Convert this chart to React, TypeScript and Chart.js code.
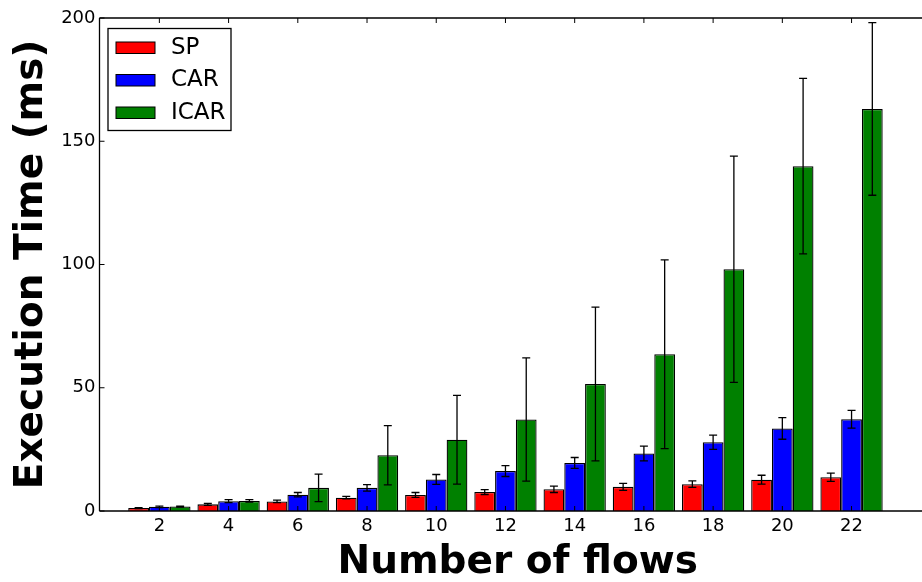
import React, { useEffect, useRef } from 'react';
import { Chart, registerables } from 'chart.js';

Chart.register(...registerables);

const flows = [2, 4, 6, 8, 10, 12, 14, 16, 18, 20, 22];
const spMean = [1.2, 2.7, 3.9, 5.4, 6.5, 7.7, 8.8, 9.8, 10.9, 12.7, 13.7];
const spErr = [0.2, 0.4, 0.5, 0.5, 1.0, 1.0, 1.3, 1.4, 1.3, 1.8, 1.7];
const carMean = [1.7, 4.0, 6.6, 9.4, 12.8, 16.2, 19.5, 23.3, 27.9, 33.5, 37.2];
const carErr = [0.3, 0.6, 0.9, 1.3, 2.0, 2.2, 2.2, 3.0, 2.9, 4.4, 3.6];
const icarMean = [1.8, 4.1, 9.4, 22.6, 28.9, 37.1, 51.5, 63.6, 98.1, 139.9, 163.1];
const icarErr = [0.2, 0.5, 5.6, 12.0, 18.0, 25.0, 31.2, 38.3, 45.9, 35.6, 35.0];
const yTickValues = [0, 50, 100, 150, 200];

const FONT = "'DejaVu Sans', sans-serif";

export default function App() {
  const ref = useRef<HTMLCanvasElement>(null);

  useEffect(() => {
    const canvas = ref.current;
    if (!canvas) return;

    const toPoints = (vals: number[]) => vals.map((v, i) => ({ x: flows[i], y: v }));

    const errorBars = {
      id: 'errorBars',
      afterDatasetsDraw(chart: any) {
        const ctx = chart.ctx;
        const yScale = chart.scales.y;
        ctx.save();
        ctx.strokeStyle = '#000';
        ctx.lineWidth = 1.3;
        chart.data.datasets.forEach((ds: any, di: number) => {
          const meta = chart.getDatasetMeta(di);
          meta.data.forEach((el: any, j: number) => {
            const v = ds.data[j].y;
            const e = ds.errors[j];
            const x = el.x;
            const yHi = yScale.getPixelForValue(v + e);
            const yLo = yScale.getPixelForValue(Math.max(0, v - e));
            ctx.beginPath();
            ctx.moveTo(x, yHi);
            ctx.lineTo(x, yLo);
            ctx.moveTo(x - 4, yHi);
            ctx.lineTo(x + 4, yHi);
            ctx.moveTo(x - 4, yLo);
            ctx.lineTo(x + 4, yLo);
            ctx.stroke();
          });
        });
        ctx.restore();
      },
    };

    const frame = {
      id: 'frameTicksLegend',
      afterDraw(chart: any) {
        const ctx = chart.ctx;
        const { left, right, top, bottom } = chart.chartArea;
        const xs = chart.scales.x;
        const ys = chart.scales.y;
        ctx.save();
        ctx.strokeStyle = '#000';
        ctx.lineWidth = 1.3;
        ctx.beginPath();
        ctx.moveTo(left, top);
        ctx.lineTo(right, top);
        ctx.moveTo(left, top);
        ctx.lineTo(left, bottom);
        ctx.moveTo(left, bottom);
        ctx.lineTo(right, bottom);
        ctx.stroke();
        ctx.lineWidth = 1;
        ctx.beginPath();
        xs.ticks.forEach((t: any) => {
          const px = xs.getPixelForValue(t.value);
          ctx.moveTo(px, bottom);
          ctx.lineTo(px, bottom - 5);
          ctx.moveTo(px, top);
          ctx.lineTo(px, top + 5);
        });
        ys.ticks.forEach((t: any) => {
          const py = ys.getPixelForValue(t.value);
          ctx.moveTo(left, py);
          ctx.lineTo(left + 5, py);
        });
        ctx.stroke();

        // legend
        const lx = left + 8.5;
        const ly = top + 10.5;
        const lw = 123;
        const lh = 102;
        ctx.fillStyle = '#fff';
        ctx.fillRect(lx, ly, lw, lh);
        ctx.lineWidth = 1.3;
        ctx.strokeStyle = '#000';
        ctx.strokeRect(lx, ly, lw, lh);
        ctx.font = `23px ${FONT}`;
        ctx.textBaseline = 'alphabetic';
        ctx.textAlign = 'left';
        chart.data.datasets.forEach((ds: any, i: number) => {
          const base = ly + 25 + i * 32.5;
          ctx.fillStyle = ds.backgroundColor;
          ctx.fillRect(lx + 8, base - 11.5, 39, 11.5);
          ctx.lineWidth = 1;
          ctx.strokeRect(lx + 8, base - 11.5, 39, 11.5);
          ctx.fillStyle = '#000';
          ctx.fillText(ds.label, lx + 63, base);
        });
        ctx.restore();
      },
    };

    const chart = new Chart(canvas, {
      type: 'bar',
      data: {
        datasets: [
          { label: 'SP', data: toPoints(spMean), errors: spErr, backgroundColor: '#ff0000' } as any,
          { label: 'CAR', data: toPoints(carMean), errors: carErr, backgroundColor: '#0000ff' } as any,
          { label: 'ICAR', data: toPoints(icarMean), errors: icarErr, backgroundColor: '#008000' } as any,
        ],
      },
      options: {
        responsive: false,
        animation: false,
        devicePixelRatio: 1,
        layout: { padding: { top: 18, right: 0, left: 0, bottom: 0 } },
        datasets: {
          bar: {
            borderColor: '#000',
            borderWidth: 1.3,
            borderSkipped: 'start',
            categoryPercentage: 0.9,
            barPercentage: 1,
          },
        },
        plugins: {
          legend: { display: false },
          tooltip: { enabled: false },
        },
        scales: {
          x: {
            type: 'linear',
            min: 0.27,
            max: 24.44,
            offset: false,
            grid: { display: false, drawTicks: false },
            border: { display: false },
            afterBuildTicks: (scale: any) => {
              scale.ticks = flows.map((v) => ({ value: v }));
            },
            afterFit: (scale: any) => {
              scale.height = 71;
            },
            ticks: {
              autoSkip: false,
              maxRotation: 0,
              padding: 5,
              color: '#000',
              font: { family: FONT, size: 18 },
            },
            title: {
              display: true,
              text: 'Number of flows',
              color: '#000',
              padding: { top: 0, bottom: 0 },
              font: { family: FONT, size: 39, weight: 'bold', lineHeight: 1 },
            },
          },
          y: {
            min: 0,
            max: 200,
            grid: { display: false, drawTicks: false },
            border: { display: false },
            afterBuildTicks: (scale: any) => {
              scale.ticks = yTickValues.map((v) => ({ value: v }));
            },
            afterFit: (scale: any) => {
              scale.width = 99.5;
            },
            ticks: {
              padding: 4,
              color: '#000',
              font: { family: FONT, size: 18 },
            },
            title: {
              display: true,
              text: 'Execution Time (ms)',
              color: '#000',
              padding: { top: 12.5, bottom: 0 },
              font: { family: FONT, size: 39, weight: 'bold', lineHeight: 1 },
            },
          },
        },
      },
      plugins: [errorBars, frame],
    } as any);

    return () => chart.destroy();
  }, []);

  return (
    <div
      style={{
        position: 'fixed',
        left: 0,
        top: 0,
        width: 922,
        height: 582,
        overflow: 'hidden',
        background: '#fff',
      }}
    >
      <canvas ref={ref} width={936} height={582} style={{ display: 'block', width: 936, height: 582 }} />
    </div>
  );
}
